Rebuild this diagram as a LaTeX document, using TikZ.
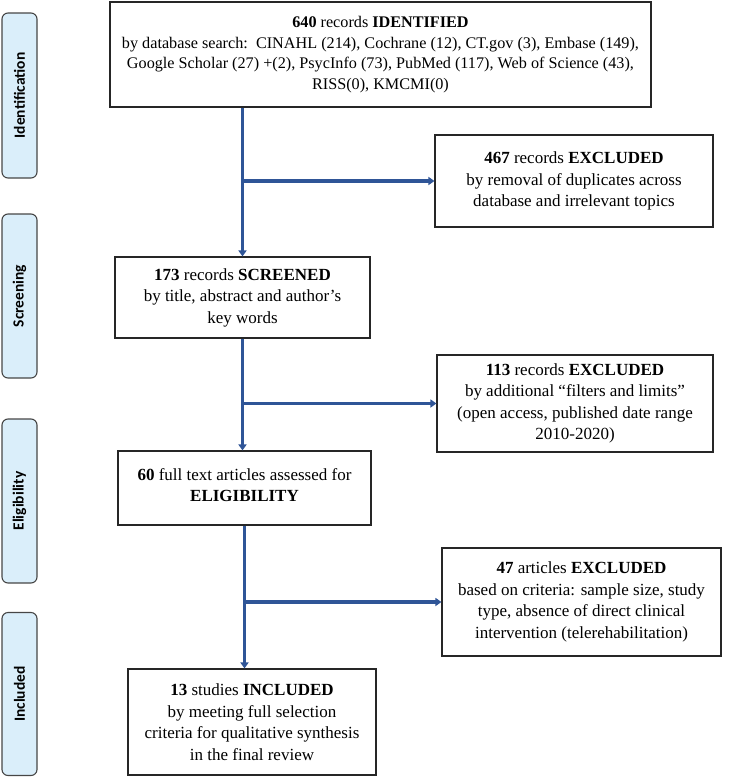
\documentclass[tikz,border=0pt]{standalone}
\usepackage{fontspec}
\setmainfont{Liberation Serif}
\newfontfamily\phasefont{Carlito}
\usetikzlibrary{arrows.meta}
\definecolor{arrblue}{RGB}{47,85,151}
\definecolor{phasefill}{RGB}{218,238,250}
\definecolor{phaseline}{RGB}{70,70,70}
\tikzset{
  flowbox/.style={draw=black!85, line width=1.1pt, fill=white, align=center,
    font=\fontsize{17}{21.5}\selectfont, inner sep=0pt},
  phasebox/.style={draw=phaseline, line width=1.1pt, fill=phasefill, rounded corners=6pt,
    minimum width=35pt, inner sep=0pt},
  phasetext/.style={rotate=90, font=\phasefont\bfseries\fontsize{15.5}{17}\selectfont},
  arr/.style={draw=arrblue, line width=3.2pt, -{Triangle[length=6pt,width=8pt]}},
}
\begin{document}
\begin{tikzpicture}[x=1pt,y=-1pt]
\useasboundingbox (0,0) rectangle (750,777);

% phase labels
\node[phasebox, minimum height=165pt] (pid) at (19.5,95.5) {};
\node[phasetext] at (pid) {Identification};
\node[phasebox, minimum height=164pt] (psc) at (19.5,296) {};
\node[phasetext] at (psc) {Screening};
\node[phasebox, minimum height=164pt] (pel) at (19.5,501) {};
\node[phasetext] at (pel) {Eligibility};
\node[phasebox, minimum height=163pt] (pin) at (19.5,694) {};
\node[phasetext] at (pin) {Included};

% main boxes
\node[flowbox, font=\fontsize{16.2}{20.5}\selectfont, minimum width=541pt, minimum height=105pt] (b1) at (380.5,54.5)
  {\textbf{640} records \textbf{IDENTIFIED}\\
   by database search:\ \ CINAHL (214), Cochrane (12), CT.gov (3), Embase (149),\\
   Google Scholar (27) +(2), PsycInfo (73), PubMed (117), Web of Science (43),\\
   RISS(0), KMCMI(0)};
\node[flowbox, minimum width=278pt, minimum height=92pt] (b2) at (574,181)
  {\textbf{467} records \textbf{EXCLUDED}\\
   by removal of duplicates across\\
   database and irrelevant topics};
\node[flowbox, minimum width=255pt, minimum height=81pt] (b3) at (242.5,297.5)
  {\textbf{173} records \textbf{SCREENED}\\
   by title, abstract and author’s\\
   key words};
\node[flowbox, minimum width=276pt, minimum height=97pt] (b4) at (575,403.5)
  {\textbf{113} records \textbf{EXCLUDED}\\
   by additional “filters and limits”\\
   (open access, published date range\\
   2010-2020)};
\node[flowbox, minimum width=253pt, minimum height=74pt, text depth=6pt] (b5) at (244.5,488)
  {\textbf{60} full text articles assessed for\\
   \textbf{ELIGIBILITY}};
\node[flowbox, minimum width=279pt, minimum height=108pt] (b6) at (581.5,602)
  {\textbf{47} articles \textbf{EXCLUDED}\\
   based on criteria: sample size, study\\
   type, absence of direct clinical\\
   intervention (telerehabilitation)};
\node[flowbox, minimum width=248pt, minimum height=106pt] (b7) at (252,722)
  {\textbf{13} studies \textbf{INCLUDED}\\
   by meeting full selection\\
   criteria for qualitative synthesis\\
   in the final review};

% connectors
\draw[arr] (b1.south -| b3.north) -- (b3.north);
\draw[arr] (b2.west -| b3.north) -- (b2.west);
\draw[arr] (b3.south) -- (b3.south |- b5.north);
\draw[arr] (b4.west -| b3.south) -- (b4.west);
\draw[arr] (b5.south) -- (b5.south |- b7.north);
\draw[arr] (b6.west -| b5.south) -- (b6.west);
\end{tikzpicture}
\end{document}
